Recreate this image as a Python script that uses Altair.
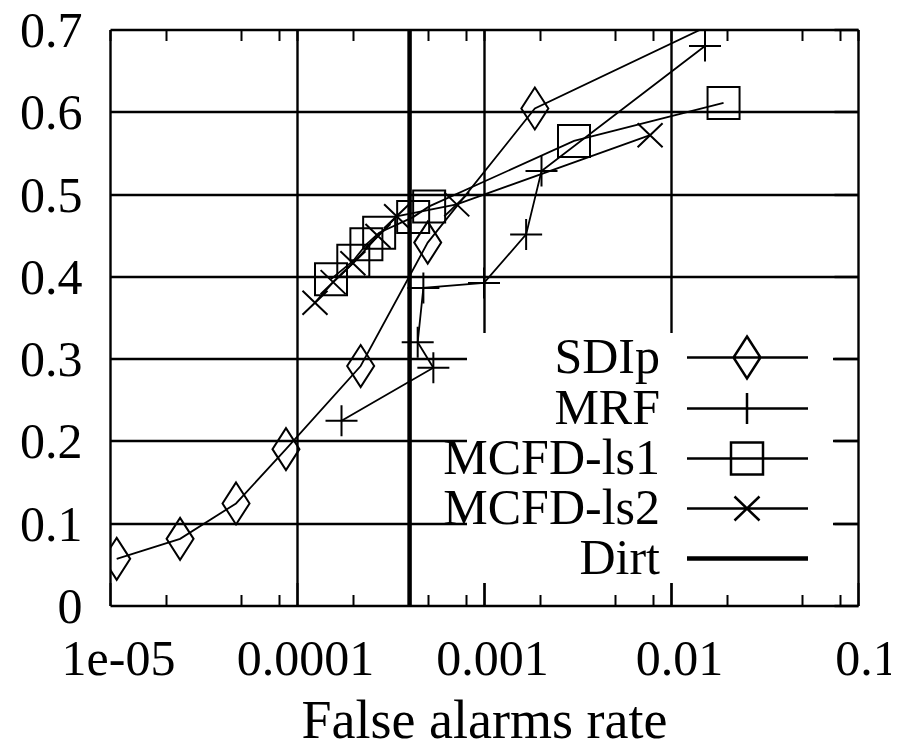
import altair as alt
import pandas as pd

# ---------------- data ----------------
series_names = ["SDIp", "MRF", "MCFD-ls1", "MCFD-ls2", "Dirt"]

sdip_x = [1.086e-5, 2.37e-5, 4.72e-5, 8.73e-5, 2.19e-4, 5.0e-4, 1.87e-3, 0.06]
sdip_y = [0.0567, 0.081, 0.124, 0.190, 0.291, 0.441, 0.604, 0.767]

mrf_x = [1.73e-4, 5.36e-4, 4.42e-4, 4.74e-4, 1.0e-3, 1.68e-3, 2.03e-3, 0.0152]
mrf_y = [0.2245, 0.289, 0.320, 0.386, 0.392, 0.451, 0.528, 0.680]

ls1_x = [1.52e-4, 2.0e-4, 2.35e-4, 2.75e-4, 4.18e-4, 5.09e-4, 3.03e-3, 0.0191]
ls1_y = [0.3966, 0.419, 0.439, 0.453, 0.472, 0.485, 0.5646, 0.6107]

ls2_x = [1.248e-4, 1.56e-4, 1.99e-4, 2.71e-4, 3.41e-4, 7.15e-4, 7.73e-3]
ls2_y = [0.368, 0.393, 0.416, 0.449, 0.473, 0.4875, 0.5716]

dirt_x = [0.0004]

x_major = [1e-5, 1e-4, 1e-3, 1e-2, 1e-1]
x_major_labels = ["1e-05", "0.0001", "0.001", "0.01", "0.1"]
x_minor = [2e-5, 5e-5, 8e-5, 2e-4, 5e-4, 8e-4, 2e-3, 5e-3, 8e-3, 2e-2, 5e-2, 8e-2]
y_ticks = [0, 0.1, 0.2, 0.3, 0.4, 0.5, 0.6, 0.7]

# marker outlines (size=4 -> 1 unit = 1 px)
marker_paths = {
    "SDIp": "M0,-21L13.5,0L0,21L-13.5,0Z",
    "MRF": "M-16,0H16M0,-15.5V15.5",
    "MCFD-ls1": "M-16,-16H16V16H-16Z",
    "MCFD-ls2": "M-12.5,-12L12.5,12M-12.5,12L12.5,-12",
}
# legend samples: line + marker, drawn to the right of the (right-aligned) label
legend_paths = [
    "M27,0H148M87,-21L100.5,0L87,21L73.5,0Z",
    "M27,0H148M87,-15.5V15.5",
    "M27,0H148M71,-16H103V16H71Z",
    "M27,0H148M74.5,-12L99.5,12M74.5,12L99.5,-12",
    "M27,-1H148M27,1H148",
]

rows = []
for name, xs, ys in [("SDIp", sdip_x, sdip_y), ("MRF", mrf_x, mrf_y),
                     ("MCFD-ls1", ls1_x, ls1_y), ("MCFD-ls2", ls2_x, ls2_y)]:
    for i, (xv, yv) in enumerate(zip(xs, ys)):
        rows.append({"series": name, "x": xv, "y": yv, "i": i, "path": marker_paths[name]})
df = pd.DataFrame(rows)

FONT = "Liberation Serif"
xscale = alt.Scale(type="log", domain=[1e-5, 0.1], nice=False)
yscale = alt.Scale(domain=[0, 0.7], nice=False, zero=False)

label_expr = " : ".join(
    f"datum.value == {v!r} ? '{t}'" for v, t in zip(x_major, x_major_labels)
) + " : ''"

axis_bottom = alt.Axis(
    orient="bottom", values=x_major, labelExpr=label_expr, grid=True,
    gridColor="black", gridWidth=2.4, ticks=True, tickSize={"expr": "-23"},
    tickColor="black", tickWidth=2, domain=False, labelPadding=52, labelOffset=8,
    labelFlush=False, labelOverlap=False, labelBound=False,
    labelFont=FONT, labelFontSize=50, labelColor="black",
    title="False alarms rate", titleFont=FONT, titleFontSize=54,
    titleFontWeight="normal", titleColor="black", titlePadding=10,
)
axis_left = alt.Axis(
    orient="left", values=y_ticks, format="~g", grid=True, gridColor="black",
    gridWidth=2.4, ticks=False, tickSize=0, domain=False, labelPadding=28,
    labelOffset=2, labelFlush=False, labelOverlap=False,
    labelFont=FONT, labelFontSize=50, labelColor="black", title=None,
)
axis_top = alt.Axis(
    orient="top", values=x_major + x_minor, labels=False, grid=False,
    ticks=True, tickSize={"expr": "-11"}, tickColor="black", tickWidth=2,
    domain=False, title=None, zindex=1,
)
axis_right = alt.Axis(
    orient="right", values=y_ticks, labels=False, grid=False, ticks=True,
    tickSize={"expr": "-24"}, tickColor="black", tickWidth=2.4,
    domain=False, title=None, zindex=1,
)
axis_bottom_minor = alt.Axis(
    orient="bottom", values=x_minor, labels=False, grid=False, ticks=True,
    tickSize={"expr": "-11"}, tickColor="black", tickWidth=2,
    domain=False, title=None, zindex=1,
)

lines = alt.Chart(df).mark_line(clip=True, color="black", strokeWidth=1.8).encode(
    x=alt.X("x:Q", scale=xscale, axis=axis_bottom),
    y=alt.Y("y:Q", scale=yscale, axis=axis_left),
    detail="series:N",
    order="i:Q",
)

points = alt.Chart(df).mark_point(
    clip=True, filled=False, color="black", size=4, strokeWidth=2, opacity=1
).encode(
    x=alt.X("x:Q", scale=xscale, axis=axis_top),
    y=alt.Y("y:Q", scale=yscale, axis=axis_right),
    shape=alt.Shape("path:N", scale=None),
)

dirt = alt.Chart(pd.DataFrame({"x": dirt_x})).mark_rule(
    color="black", strokeWidth=4.5
).encode(x=alt.X("x:Q", scale=xscale, axis=axis_bottom_minor))

legend_df = pd.DataFrame({"series": series_names, "box": ["box"] * len(series_names)})
legend_layer = alt.Chart(legend_df).transform_filter("false").mark_point(
    filled=False, color="black", size=4, opacity=1
).encode(
    shape=alt.Shape(
        "series:N",
        scale=alt.Scale(domain=series_names, range=legend_paths),
        legend=alt.Legend(
            title=None, orient="none", legendX=525, legendY=303,
            labelFont=FONT, labelFontSize=50, labelColor="black",
            labelAlign="right", labelBaseline="middle",
            labelOffset={"expr": "-25"},
            labelLimit=600, symbolSize=4, symbolStrokeWidth=2.5,
            symbolStrokeColor="black", symbolFillColor="white",
            symbolOpacity=1, rowPadding={"expr": "-1.6"}, padding=0, zindex=1,
        ),
    ),
    fill=alt.Fill(
        "box:N",
        scale=alt.Scale(domain=["box"], range=["white"]),
        legend=alt.Legend(
            title=None, orient="none", legendX=356, legendY=302.5,
            symbolType="M0,0H366V250H0Z", symbolSize=4, symbolStrokeWidth=0,
            symbolStrokeColor="white", symbolOpacity=1, labelExpr="''",
            labelFontSize=1, padding=0, zindex=0,
        ),
    ),
)

chart = alt.layer(lines, points, dirt, legend_layer).properties(
    width=748, height=576, autosize="none",
    padding={"left": 102, "top": 21.5, "right": 33, "bottom": 135},
).configure_view(stroke="black", strokeWidth=3).configure(background="white")

chart.save("out.html", embed_options={"renderer": "svg", "actions": False})
